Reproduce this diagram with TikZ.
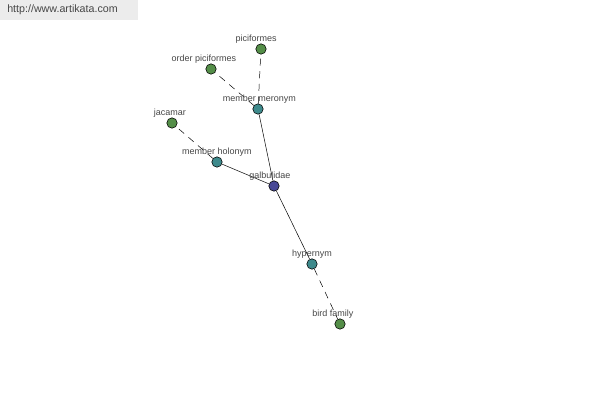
\documentclass[tikz,border=0pt]{standalone}
\usepackage{fontspec}
\setmainfont{Liberation Sans}
\usetikzlibrary{positioning}
\definecolor{verdeno}{RGB}{84,142,72}
\definecolor{azulno}{RGB}{62,138,140}
\definecolor{roxono}{RGB}{72,72,150}
\definecolor{cinzatexto}{RGB}{70,70,70}
\definecolor{cinzafundo}{RGB}{236,236,236}
\tikzset{
  centro/.style={circle,draw=black,fill=roxono,minimum size=2.6mm,inner sep=0pt},
  relacao/.style={circle,draw=black,fill=azulno,minimum size=2.6mm,inner sep=0pt},
  termo/.style={circle,draw=black,fill=verdeno,minimum size=2.6mm,inner sep=0pt},
  rotulo/.style={font=\fontsize{6.4}{7}\selectfont,text=cinzatexto,inner sep=0pt},
  liga/.style={black,line width=0.35pt},
  ligatr/.style={black,line width=0.35pt,dash pattern=on 5pt off 4pt}
}
\begin{document}
\begin{tikzpicture}[x=0.025cm,y=-0.025cm]
\useasboundingbox (0,0) rectangle (600,400);
\fill[cinzafundo] (0,0) rectangle (138,20);
\node[anchor=west,font=\fontsize{7.6}{9}\selectfont,text=cinzatexto,inner sep=0pt] (site) at (7,10) {http://www.artikata.com};
% nos
\node[centro] (galb) at (274,186) {};
\node[relacao] (mero) at (258,109) {};
\node[relacao] (holo) at (217,162) {};
\node[relacao] (hyper) at (312,264) {};
\node[termo] (pici) at (261,49) {};
\node[termo] (ordem) at (211,69) {};
\node[termo] (jaca) at (172,123) {};
\node[termo] (bird) at (340,324) {};
% arestas
\draw[liga] (galb) -- (mero);
\draw[liga] (galb) -- (holo);
\draw[liga] (galb) -- (hyper);
\draw[ligatr] (mero) -- (pici);
\draw[ligatr] (mero) -- (ordem);
\draw[ligatr] (holo) -- (jaca);
\draw[ligatr] (hyper) -- (bird);
% rotulos
\node[rotulo,above=5.5pt of galb.center,anchor=base,xshift=-3pt] {galbulidae};
\node[rotulo,above=5.5pt of mero.center,anchor=base,xshift=1pt] {member meronym};
\node[rotulo,above=5.5pt of holo.center,anchor=base] {member holonym};
\node[rotulo,above=5.5pt of hyper.center,anchor=base] {hypernym};
\node[rotulo,above=5.5pt of pici.center,anchor=base,xshift=-3.5pt] {piciformes};
\node[rotulo,above=5.5pt of ordem.center,anchor=base,xshift=-5pt] {order piciformes};
\node[rotulo,above=5.5pt of jaca.center,anchor=base,xshift=-1.5pt] {jacamar};
\node[rotulo,above=5.5pt of bird.center,anchor=base,xshift=-5pt] {bird family};
\end{tikzpicture}
\end{document}
